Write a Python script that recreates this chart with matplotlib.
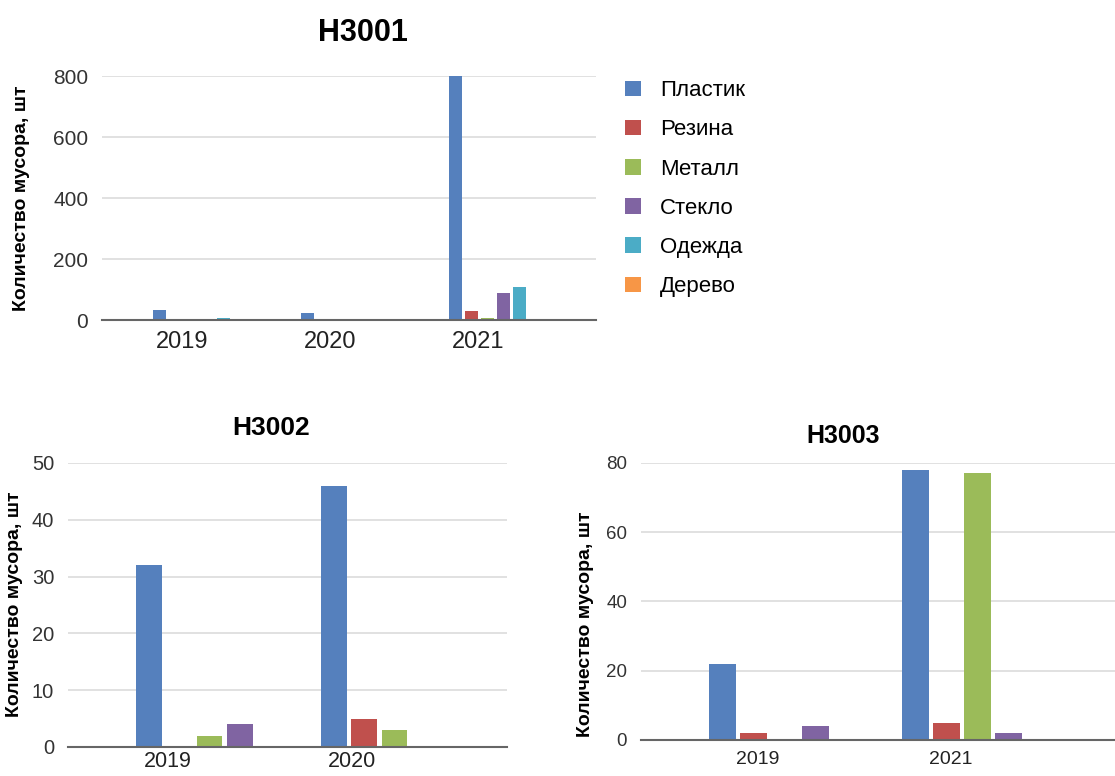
import numpy as np
import matplotlib
matplotlib.use('Agg')
import matplotlib.pyplot as plt
from matplotlib.patches import Patch

plt.rcParams['font.family'] = ['Liberation Sans', 'DejaVu Sans']

# --- Data ---
materials = ['Пластик', 'Резина', 'Металл', 'Стекло', 'Одежда', 'Дерево']
colors = ['#5580BD', '#C0504D', '#9BBB59', '#8064A2', '#4BACC6', '#F79646']
ylabel = 'Количество мусора, шт'

h3001_years = ['2019', '2020', '2021']
h3001_plastic = [33, 22, 800]
h3001_rubber = [0, 0, 28]
h3001_metal = [0, 0, 7]
h3001_glass = [0, 0, 87]
h3001_cloth = [5, 0, 108]
h3001_wood = [0, 0, 0]

h3002_years = ['2019', '2020']
h3002_plastic = [32, 46]
h3002_rubber = [0, 5]
h3002_metal = [2, 3]
h3002_glass = [4, 0]
h3002_cloth = [0, 0]
h3002_wood = [0, 0]

h3003_years = ['2019', '2021']
h3003_plastic = [22, 78]
h3003_rubber = [2, 5]
h3003_metal = [0, 77]
h3003_glass = [4, 2]
h3003_cloth = [0, 0]
h3003_wood = [0, 0]


def bar_group(ax, years, series, pitch, width, xlim, ylim, yticks,
              tick_shift, xfs, yfs, xpad):
    x = np.arange(len(years))
    n = len(series)
    for i, vals in enumerate(series):
        offs = (i - (n - 1) / 2) * pitch
        ax.bar(x + offs, vals, width, color=colors[i], zorder=3)
    ax.set_xlim(*xlim)
    ax.set_ylim(*ylim)
    ax.set_yticks(yticks)
    ax.set_xticks(x + tick_shift)
    ax.set_xticklabels(years, fontsize=xfs, color='#222222')
    ax.tick_params(axis='y', labelsize=yfs, colors='#333333', length=0, pad=10)
    ax.tick_params(axis='x', length=0, pad=xpad)
    ax.grid(axis='y', color='#dcdcdc', linewidth=1.2, zorder=0)
    for s in ['top', 'right', 'left']:
        ax.spines[s].set_visible(False)
    ax.spines['bottom'].set_color('#666666')
    ax.spines['bottom'].set_linewidth(1.5)
    ax.spines['bottom'].set_zorder(4)


def ylab(x, y):
    fig.text(x, y, ylabel, rotation=90, ha='center', va='center',
             fontsize=14, fontweight='bold')


fig = plt.figure(figsize=(11.15, 7.76), dpi=100)

# --- H3001 ---
ax1 = fig.add_axes([0.0915, 0.5876, 0.443, 0.3144])
bar_group(ax1, h3001_years,
          [h3001_plastic, h3001_rubber, h3001_metal, h3001_glass, h3001_cloth, h3001_wood],
          0.108, 0.085, (-0.659, 2.679), (0, 800), [0, 200, 400, 600, 800],
          -0.12, 17, 15, 8)
ylab(22 / 1115, 1 - 198 / 776)
fig.text(0.3256, 0.9575, 'H3001', fontsize=22, fontweight='bold', ha='center', va='center')

handles = [Patch(facecolor=c, edgecolor='none') for c in colors]
fig.legend(handles, materials, loc='upper left', bbox_to_anchor=(0.5426, 0.9226),
           frameon=False, fontsize=16, handlelength=0.7, handleheight=0.7,
           handletextpad=0.88, labelspacing=0.82)

# --- H3002 ---
ax2 = fig.add_axes([0.061, 0.0374, 0.3937, 0.366])
bar_group(ax2, h3002_years,
          [h3002_plastic, h3002_rubber, h3002_metal, h3002_glass, h3002_cloth, h3002_wood],
          0.164, 0.14, (-0.847, 1.526), (0, 50), [0, 10, 20, 30, 40, 50],
          -0.31, 15.5, 14.5, 3)
ylab(15 / 1115, 1 - 604 / 776)
fig.text(0.243, 0.4485, 'H3002', fontsize=19, fontweight='bold', ha='center', va='center')

# --- H3003 ---
ax3 = fig.add_axes([0.5749, 0.0464, 0.4251, 0.357])
bar_group(ax3, h3003_years,
          [h3003_plastic, h3003_rubber, h3003_metal, h3003_glass, h3003_cloth, h3003_wood],
          0.1606, 0.1425, (-0.825, 1.631), (0, 80), [0, 20, 40, 60, 80],
          -0.22, 14, 13.5, 8)
ylab(585 / 1115, 1 - 624 / 776)
fig.text(0.756, 0.438, 'H3003', fontsize=18, fontweight='bold', ha='center', va='center')

fig.savefig('out.png', dpi=100)
